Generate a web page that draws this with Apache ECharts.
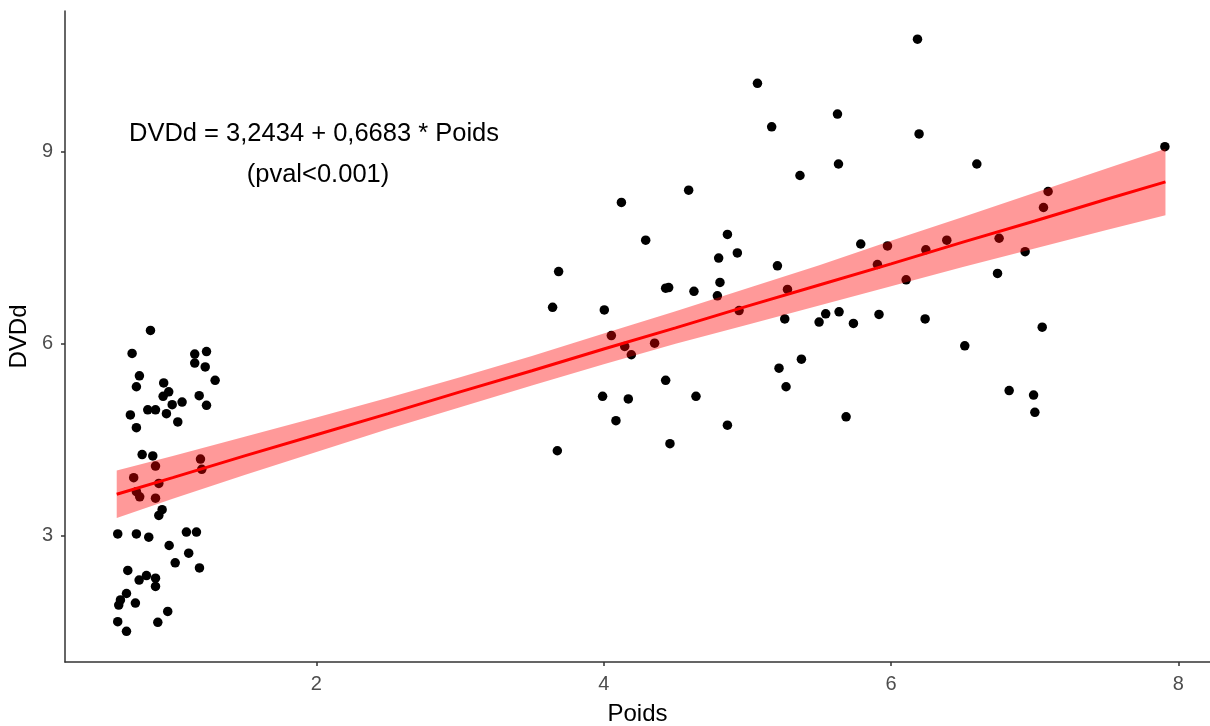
<!DOCTYPE html>
<html>
<head>
<meta charset="utf-8">
<script src="https://cdn.jsdelivr.net/npm/echarts@6/dist/echarts.min.js"></script>
<style>
  html, body { margin: 0; padding: 0; background: #fff; }
  #main { width: 1210px; height: 726px; }
</style>
</head>
<body>
<div id="main"></div>
<script>
// points, low weight group (Poids < 2)
var lowPoids = [0.845, 0.717, 0.768, 0.747, 0.937, 0.972, 0.933, 0.996, 1.065, 0.826,
  0.880, 0.705, 0.956, 0.747, 1.035, 1.153, 1.235, 1.153, 1.226, 1.295,
  1.184, 1.235, 0.787, 0.861, 0.880, 0.728, 0.903, 0.747, 0.770, 0.880,
  1.193, 1.202, 0.926, 0.903, 0.617, 0.747, 0.833, 1.095, 1.165, 0.975,
  1.111, 1.017, 1.186, 0.687, 0.766, 0.817, 0.880, 0.880, 0.678, 0.636,
  0.624, 0.740, 0.965, 0.617, 0.896, 0.678];
var lowDVDd = [6.21, 5.85, 5.50, 5.33, 5.39, 5.25, 5.18, 5.05, 5.09, 4.97,
  4.97, 4.89, 4.91, 4.69, 4.78, 5.84, 5.88, 5.70, 5.64, 5.43,
  5.19, 5.04, 4.27, 4.25, 4.09, 3.91, 3.82, 3.69, 3.61, 3.59,
  4.20, 4.04, 3.41, 3.32, 3.03, 3.03, 2.98, 3.06, 3.06, 2.85,
  2.73, 2.58, 2.50, 2.46, 2.31, 2.38, 2.34, 2.21, 2.10, 2.00,
  1.92, 1.95, 1.82, 1.66, 1.65, 1.51];

// points, high weight group (Poids > 3.5)
var highPoids = [4.591, 4.123, 4.292, 4.861, 4.930, 4.800, 3.686, 3.644, 4.004, 4.431,
  4.452, 4.628, 4.809, 4.791, 4.942, 4.053, 4.146, 4.192, 4.354, 4.431,
  3.992, 4.171, 4.642, 4.085, 4.861, 3.677, 4.461,
  6.184, 5.070, 5.627, 5.169, 6.195, 5.634, 5.366, 6.597, 5.789, 5.975,
  5.209, 5.279, 5.905, 6.242, 6.388, 6.105, 5.260, 5.499, 5.545, 5.638,
  5.738, 5.916, 6.237, 6.513, 5.220, 5.376, 5.269, 5.687,
  7.906, 7.093, 7.061, 6.752, 6.933, 6.741, 7.052, 6.822, 6.992, 7.001];
var highDVDd = [8.40, 8.21, 7.62, 7.71, 7.42, 7.34, 7.13, 6.57, 6.53, 6.87,
  6.88, 6.82, 6.96, 6.75, 6.52, 6.13, 5.96, 5.83, 6.01, 5.43,
  5.18, 5.14, 5.18, 4.80, 4.73, 4.33, 4.44,
  10.76, 10.07, 9.59, 9.39, 9.28, 8.81, 8.63, 8.81, 7.56, 7.53,
  7.22, 6.85, 7.24, 7.47, 7.62, 7.00, 6.39, 6.34, 6.47, 6.50,
  6.32, 6.46, 6.39, 5.97, 5.62, 5.76, 5.33, 4.86,
  9.08, 8.38, 8.13, 7.65, 7.44, 7.10, 6.26, 5.27, 5.20, 4.93];

// regression line and its confidence band
var bandX = [0.61, 1, 1.5, 2, 2.5, 3, 3.5, 4, 4.5, 5, 5.5, 6, 6.5, 7, 7.5, 7.91];
var fitLine = [3.65, 3.91, 4.25, 4.58, 4.91, 5.25, 5.58, 5.92, 6.25, 6.59, 6.92, 7.25, 7.59, 7.92, 8.26, 8.53];
var bandLow = [3.28, 3.58, 3.95, 4.31, 4.67, 5.01, 5.35, 5.68, 6.00, 6.30, 6.60, 6.90, 7.20, 7.49, 7.78, 8.01];
var bandHigh = [4.02, 4.25, 4.55, 4.85, 5.16, 5.48, 5.81, 6.16, 6.51, 6.87, 7.23, 7.61, 7.98, 8.36, 8.74, 9.05];

var xTicks = [2, 4, 6, 8];
var yTicks = [3, 6, 9];

var font = '"Liberation Sans", Arial, sans-serif';

var points = [];
lowPoids.forEach(function (x, i) { points.push([x, lowDVDd[i]]); });
highPoids.forEach(function (x, i) { points.push([x, highDVDd[i]]); });

var myChart = echarts.init(document.getElementById("main"));

var option = {
  animation: false,
  backgroundColor: "#fff",
  grid: { left: 65, right: 0, top: 11, bottom: 64, containLabel: false, outerBoundsMode: "none" },
  xAxis: {
    type: "value",
    min: 0.25,
    max: 8.22,
    name: "Poids",
    nameLocation: "middle",
    nameGap: 40,
    nameTextStyle: { color: "#000", fontSize: 24, fontFamily: font },
    axisLine: { show: true, lineStyle: { color: "#333", width: 1.5 } },
    axisTick: { show: true, customValues: xTicks, length: 4, lineStyle: { color: "#333", width: 1.5 } },
    axisLabel: { customValues: xTicks, color: "#4D4D4D", fontSize: 20, fontFamily: font, margin: 12 },
    splitLine: { show: false }
  },
  yAxis: {
    type: "value",
    min: 1.03,
    max: 11.2,
    name: "DVDd",
    nameLocation: "middle",
    nameRotate: 90,
    nameGap: 28,
    nameTextStyle: { color: "#000", fontSize: 24, fontFamily: font },
    axisLine: { show: true, lineStyle: { color: "#333", width: 1.5 } },
    axisTick: { show: true, customValues: yTicks, length: 4, lineStyle: { color: "#333", width: 1.5 } },
    axisLabel: { customValues: yTicks, color: "#4D4D4D", fontSize: 20, fontFamily: font, margin: 12 },
    splitLine: { show: false }
  },
  graphic: [
    {
      type: "text",
      x: 314,
      y: 134,
      style: {
        text: "DVDd = 3,2434 + 0,6683 * Poids",
        fill: "#000",
        font: "25.5px " + font,
        textAlign: "center",
        textVerticalAlign: "middle"
      }
    },
    {
      type: "text",
      x: 318,
      y: 175,
      style: {
        text: "(pval<0.001)",
        fill: "#000",
        font: "25.5px " + font,
        textAlign: "center",
        textVerticalAlign: "middle"
      }
    }
  ],
  series: [
    {
      type: "scatter",
      data: points,
      symbolSize: 9.5,
      itemStyle: { color: "#000", opacity: 1 },
      z: 2
    },
    {
      type: "custom",
      data: [[bandX[0], bandLow[0]]],
      z: 3,
      clip: true,
      renderItem: function (params, api) {
        var pts = [];
        for (var i = 0; i < bandX.length; i++) {
          pts.push(api.coord([bandX[i], bandHigh[i]]));
        }
        for (var j = bandX.length - 1; j >= 0; j--) {
          pts.push(api.coord([bandX[j], bandLow[j]]));
        }
        return {
          type: "polygon",
          shape: { points: pts },
          style: { fill: "rgba(255,0,0,0.4)", stroke: null }
        };
      }
    },
    {
      type: "line",
      data: bandX.map(function (x, i) { return [x, fitLine[i]]; }),
      showSymbol: false,
      lineStyle: { color: "#FF0000", width: 3 },
      z: 4
    }
  ]
};

myChart.setOption(option);
</script>
</body>
</html>
